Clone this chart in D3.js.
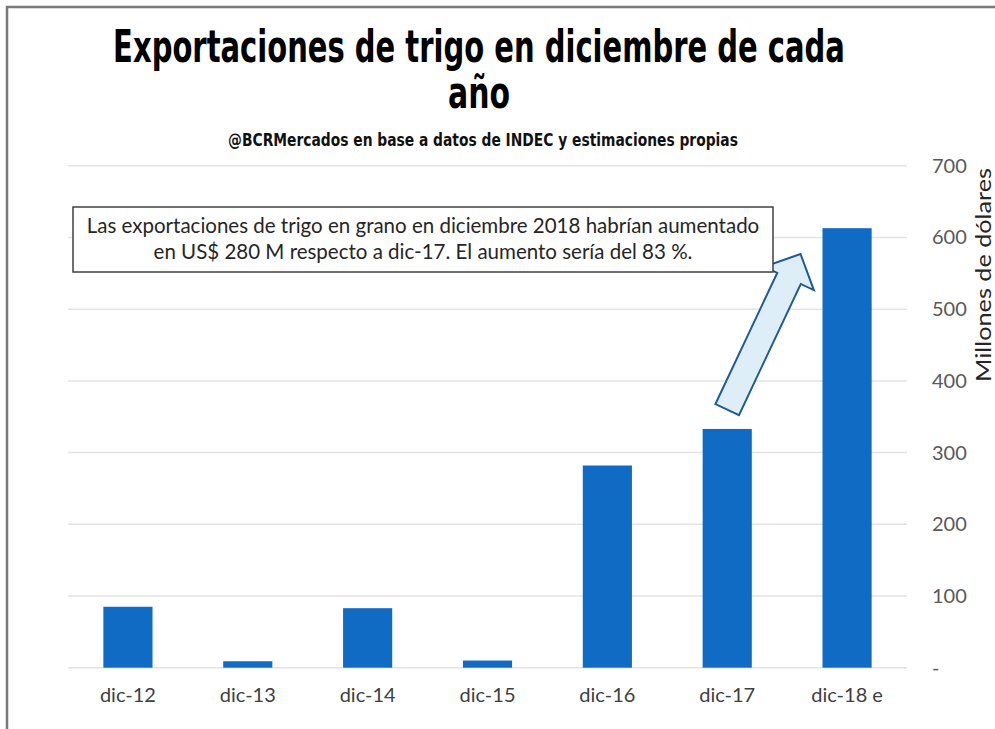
<!DOCTYPE html>
<html>
<head>
<meta charset="utf-8">
<script src="https://cdn.jsdelivr.net/npm/d3@7"></script>
<style>
  body { margin: 0; background: #fff; }
  svg { display: block; }
</style>
</head>
<body>
<div id="chart"></div>
<script>
// data (millones de dólares)
const categories = ["dic-12", "dic-13", "dic-14", "dic-15", "dic-16", "dic-17", "dic-18 e"];
const values = [85, 9, 83, 10, 282, 333, 613];
const yTicks = [0, 100, 200, 300, 400, 500, 600, 700];

const titleLines = ["Exportaciones de trigo en diciembre de cada", "año"];
const subtitle = "@BCRMercados en base a datos de INDEC y estimaciones propias";
const note = [
  "Las exportaciones de trigo en grano en diciembre 2018 habrían aumentado",
  "en US$ 280 M respecto a dic-17. El aumento sería del 83 %."
];
const yTitle = "Millones de dólares";

const W = 995, H = 729;
const plot = { left: 68, right: 907, top: 165.8, bottom: 667.7 };

const svg = d3.select("#chart").append("svg")
  .attr("width", W)
  .attr("height", H);

// outer frame
svg.append("path")
  .attr("d", `M7,${H} V7 H${W}`)
  .attr("fill", "none")
  .attr("stroke", "#7a7a7a")
  .attr("stroke-width", 2.5);

const x = d3.scaleBand()
  .domain(categories)
  .range([plot.left, plot.right])
  .paddingInner(0.59)
  .paddingOuter(0.295);

const y = d3.scaleLinear()
  .domain([0, 700])
  .range([plot.bottom, plot.top]);

// gridlines
svg.append("g")
  .selectAll("line")
  .data(yTicks)
  .join("line")
  .attr("x1", plot.left)
  .attr("x2", plot.right)
  .attr("y1", d => y(d))
  .attr("y2", d => y(d))
  .attr("stroke", "#e3e3e3")
  .attr("stroke-width", 1.5);

// right axis
const yAxis = svg.append("g")
  .attr("transform", `translate(${plot.right}, 0)`)
  .call(d3.axisRight(y).tickValues(yTicks).tickSize(0).tickPadding(25)
    .tickFormat(d => d === 0 ? "-" : d));
yAxis.select(".domain").remove();
yAxis.selectAll("text")
  .attr("font-family", "Lato, 'Open Sans', sans-serif")
  .attr("font-size", 20)
  .attr("fill", "#595959");

// bottom axis labels
const xAxis = svg.append("g")
  .attr("transform", `translate(0, ${plot.bottom})`)
  .call(d3.axisBottom(x).tickSize(0).tickPadding(20));
xAxis.select(".domain").remove();
xAxis.selectAll("text")
  .attr("font-family", "Lato, 'Open Sans', sans-serif")
  .attr("font-size", 20)
  .attr("fill", "#404040");

// bars
svg.append("g")
  .selectAll("rect")
  .data(values)
  .join("rect")
  .attr("x", (d, i) => x(categories[i]))
  .attr("width", x.bandwidth())
  .attr("y", d => y(d))
  .attr("height", d => y(0) - y(d))
  .attr("fill", "#0f6bc4");

// axis title, rotated (runs off the right edge like the original)
svg.append("text")
  .attr("transform", `translate(991, 382) rotate(-90)`)
  .attr("font-family", "Lato, 'Open Sans', sans-serif")
  .attr("font-size", 21)
  .attr("textLength", 214)
  .attr("lengthAdjust", "spacingAndGlyphs")
  .attr("fill", "#262626")
  .text(yTitle);

// titles: condensed bold, squeezed horizontally to the original width
const titleFont = "'Liberation Sans Narrow', 'DejaVu Sans Condensed', 'Arial Narrow', sans-serif";
const squeezed = (txt, cx, cy, size, width, color) => {
  const t = svg.append("text")
    .attr("text-anchor", "middle")
    .attr("font-family", titleFont)
    .attr("font-weight", "bold")
    .attr("font-size", size)
    .attr("fill", color)
    .text(txt);
  const natural = t.node().getComputedTextLength();
  t.attr("transform", `translate(${cx},${cy}) scale(${width / natural},1)`);
  return t;
};
squeezed(titleLines[0], 479, 62, 44, 732, "#000");
squeezed(titleLines[1], 479, 108, 44, 62, "#000");
squeezed(subtitle, 483, 146, 18, 510, "#111");

// arrow from dic-17 towards dic-18 e
const tail = [x("dic-17") + x.bandwidth() / 2, y(360)];
const tip = [x("dic-18 e") - 22, y(577)];
const ang = Math.atan2(tip[1] - tail[1], tip[0] - tail[0]);
const len = Math.hypot(tip[0] - tail[0], tip[1] - tail[1]);
const shaftW = 26, headW = 55, headL = 27;
const arrowPts = [
  [0, -shaftW / 2], [len - headL, -shaftW / 2], [len - headL, -headW / 2],
  [len, 0],
  [len - headL, headW / 2], [len - headL, shaftW / 2], [0, shaftW / 2]
];
svg.append("polygon")
  .attr("points", arrowPts.map(p => p.join(",")).join(" "))
  .attr("transform", `translate(${tail[0]},${tail[1]}) rotate(${ang * 180 / Math.PI})`)
  .attr("fill", "#ddeef9")
  .attr("stroke", "#1f5a96")
  .attr("stroke-width", 2)
  .attr("stroke-linejoin", "miter");

// annotation box
svg.append("rect")
  .attr("x", 73).attr("y", 207)
  .attr("width", 700).attr("height", 65)
  .attr("fill", "#fff")
  .attr("stroke", "#404040")
  .attr("stroke-width", 1.5);
svg.append("g")
  .selectAll("text")
  .data(note)
  .join("text")
  .attr("x", 423)
  .attr("y", (d, i) => 233 + i * 26)
  .attr("text-anchor", "middle")
  .attr("font-family", "Lato, 'Open Sans', sans-serif")
  .attr("font-size", 20.5)
  .attr("fill", "#262626")
  .text(d => d);
</script>
</body>
</html>
